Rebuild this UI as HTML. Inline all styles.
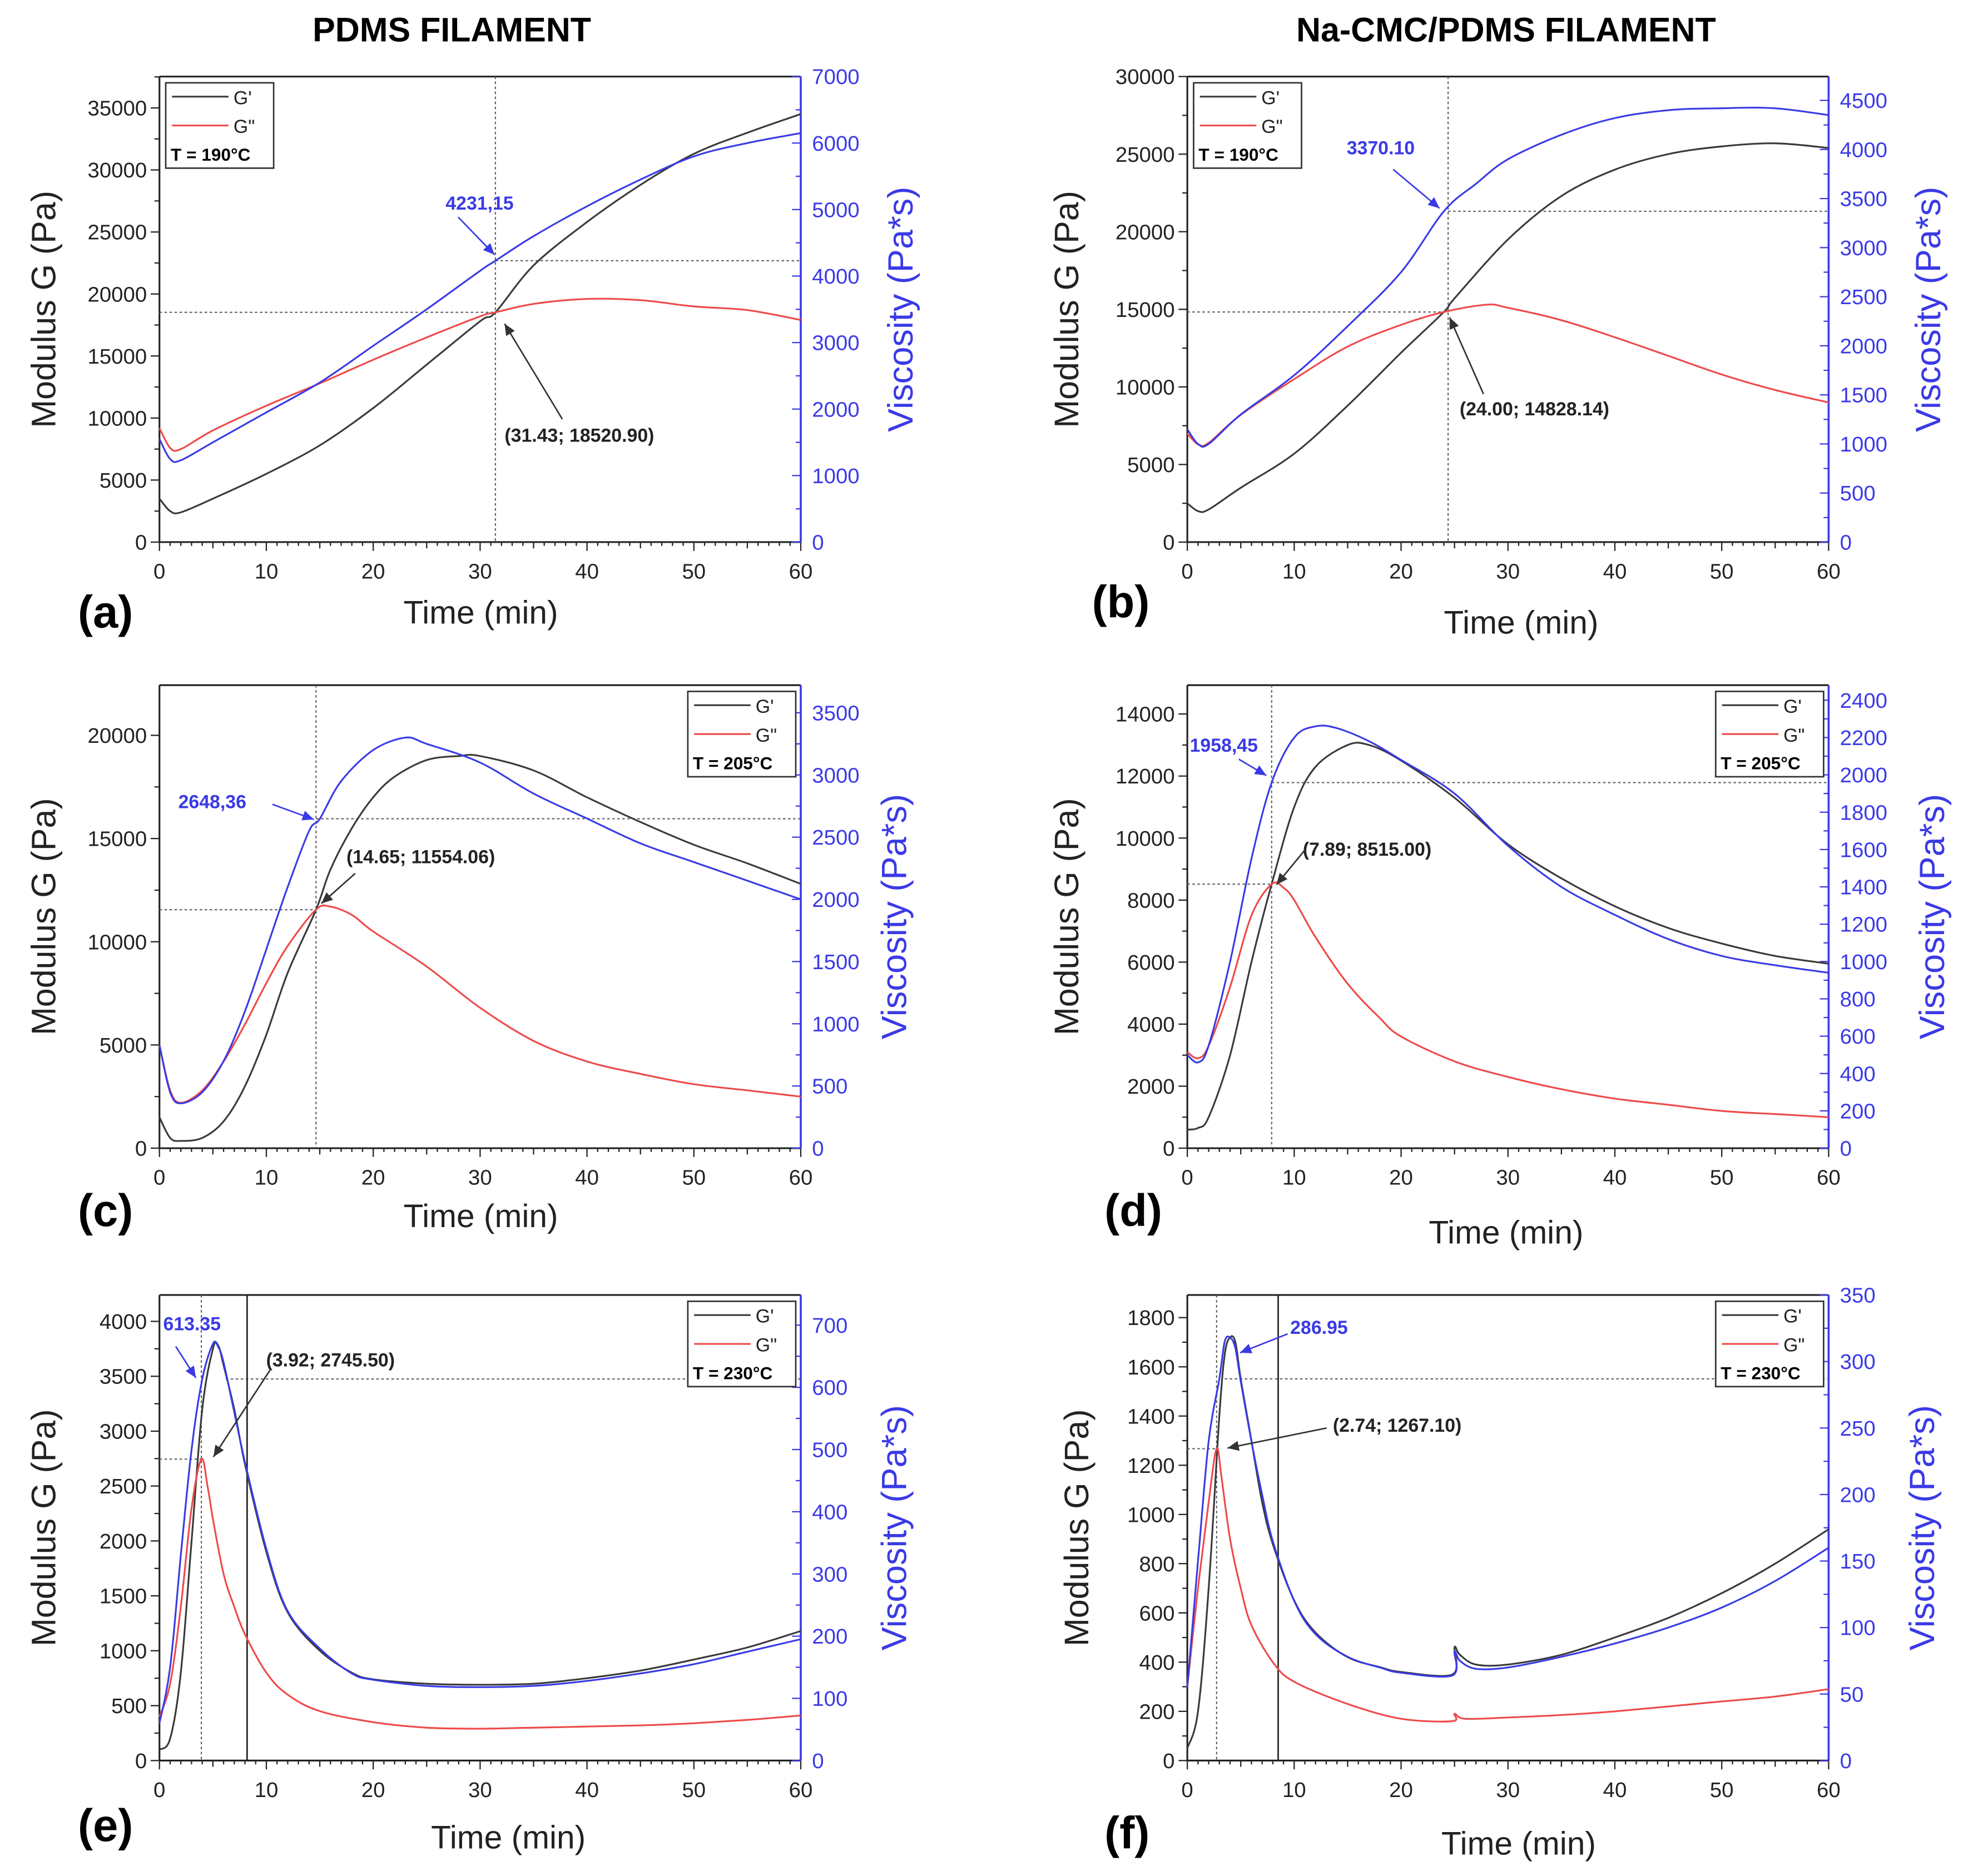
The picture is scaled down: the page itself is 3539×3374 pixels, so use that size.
<!DOCTYPE html>
<html><head><meta charset="utf-8">
<style>
html,body{margin:0;padding:0;background:#fff;}
svg{display:block;}
text{font-family:"Liberation Sans",Arial,sans-serif;}
</style></head>
<body>
<svg id="fig" width="3539" height="3374" viewBox="0 0 1568 1495" xmlns="http://www.w3.org/2000/svg">
<rect width="1568" height="1495" fill="#fff"/>
<text x="360" y="33" font-size="27" font-weight="bold" text-anchor="middle">PDMS FILAMENT</text>
<text x="1200" y="33" font-size="27" font-weight="bold" text-anchor="middle">Na-CMC/PDMS FILAMENT</text>
</svg>
<script>
// ---- data (time in min, G in Pa, viscosity in Pa*s) ----
const aT  = [0,1,2,5,10,15,20,25,30,31.43,35,40,45,50,55,60];
const aG1 = [3500,2500,2400,3500,5500,7800,10800,14300,17800,18520,22300,25800,28800,31300,33000,34500];
const aT2 = [0,1,2,5,10,15,20,25,30,31.43,35,40,45,50,55,60];
const aG2 = [9200,7600,7500,9000,11000,12800,14700,16500,18200,18520,19200,19600,19500,19000,18700,17900];
const aTv = [0,1,2,5,10,15,20,25,30,31.43,35,40,45,50,55,60];
const aV  = [1550,1250,1230,1500,1950,2400,2950,3500,4080,4231,4600,5050,5450,5800,6000,6150];

const bT  = [0,1,2,5,10,15,20,24,25,30,35,40,45,50,55,60];
const bG1 = [2500,2000,2100,3500,5700,8800,12200,14828,15700,19500,22300,24000,25000,25500,25700,25400];
const bT2 = [0,1,2,5,10,15,20,24,28,30,35,40,45,50,55,60];
const bG2 = [7000,6300,6400,8200,10500,12600,14000,14828,15300,15100,14300,13200,12000,10800,9800,9000];
const bTv = [0,1,2,5,10,15,20,24,27,30,35,40,45,50,55,60];
const bV  = [1150,1000,1000,1300,1700,2200,2750,3370,3650,3900,4150,4320,4400,4420,4420,4350];

const cT  = [0,1,2,4,6,8,10,12,14.65,16,18,20,22,25,28,30,35,40,45,50,55,60];
const cG1 = [1500,500,350,500,1300,3000,5500,8500,11554,13500,15500,17000,18000,18800,19000,19000,18300,17000,15800,14700,13800,12800];
const cT2 = [0,1,2,4,6,8,10,12,14.65,16,18,20,25,30,35,40,45,50,55,60];
const cG2 = [5000,2800,2200,2800,4200,6000,8000,9800,11554,11700,11300,10500,8800,6800,5200,4200,3600,3100,2800,2500];
const cTv = [0,1,2,4,6,8,10,12,14,15,17,20,23,25,30,35,40,45,50,55,60];
const cV  = [830,450,360,450,700,1100,1600,2100,2550,2648,2950,3200,3300,3250,3100,2850,2650,2450,2300,2150,2000];

const dT  = [0,1,2,4,6,7.89,10,12,15,17,20,25,30,35,40,45,50,55,60];
const dG1 = [600,650,1000,3000,6000,8515,11000,12300,13000,13000,12500,11300,9800,8700,7800,7100,6600,6200,5950];
const dT2 = [0,1,2,4,6,7.89,9,10,12,15,18,20,25,30,35,40,45,50,55,60];
const dG2 = [3100,2900,3300,5200,7500,8515,8400,8000,6800,5300,4200,3600,2800,2300,1900,1600,1400,1200,1100,1000];
const dTv = [0,1,2,4,6,7.89,10,12,14,17,20,25,30,35,40,45,50,55,60];
const dV  = [500,460,550,1000,1550,1958,2200,2260,2250,2180,2080,1900,1620,1400,1250,1120,1030,980,940];

const eT  = [0,1,2,3,4,5,5.5,6,7,8,10,12,15,18,20,25,30,35,40,45,50,55,60];
const eG1 = [100,200,800,2000,3200,3750,3780,3600,3200,2700,1900,1350,1000,800,740,700,690,700,750,820,920,1030,1180];
const eT2 = [0,1,2,3,3.92,4.5,5,6,7,8,10,12,15,20,25,30,35,40,45,50,55,60];
const eG2 = [400,700,1400,2300,2745,2500,2200,1700,1400,1150,800,600,450,350,300,290,300,310,320,340,370,410];
const eTv = [0,1,2,3,4,5,5.5,6,7,8,10,12,15,18,20,25,30,35,40,45,50,55,60];
const eV  = [60,150,330,500,613,670,665,640,560,480,340,240,180,140,130,120,118,120,128,140,155,175,195];

const fT  = [0,1,2,3,3.5,4,4.5,5,6,7,8,10,12,15,18,20,24.8,25,25.5,27,30,35,40,45,50,55,60];
const fG1 = [50,200,700,1400,1650,1720,1700,1550,1300,1050,880,650,520,420,380,360,350,460,430,390,390,430,500,580,680,800,940];
const fT2 = [0,1,2,2.74,3.2,4,5,6,8,10,15,20,24.8,25,26,30,35,40,45,50,55,60];
const fG2 = [300,700,1050,1267,1150,900,700,550,400,320,230,170,160,190,170,175,185,200,220,240,260,290];
const fTv = [0,1,2,3,3.5,4,4.5,5,6,7,8,10,12,15,18,20,24.8,25,25.5,27,30,35,40,45,50,55,60];
const fV  = [55,150,240,287,315,318,310,285,240,200,165,120,95,78,70,66,64,82,75,69,70,78,88,100,115,135,160];

const xTicks = [0,10,20,30,40,50,60];

const NS='http://www.w3.org/2000/svg';
const svg=document.getElementById('fig');
function mk(tag,attrs,parent){const e=document.createElementNS(NS,tag);for(const k in attrs)e.setAttribute(k,attrs[k]);(parent||svg).appendChild(e);return e;}
function smoothPath(pts){
  let d='M'+pts[0][0].toFixed(1)+','+pts[0][1].toFixed(1);
  for(let i=0;i<pts.length-1;i++){
    const p0=pts[i-1]||pts[i],p1=pts[i],p2=pts[i+1],p3=pts[i+2]||p2;
    const k=1/6;
    const c1=[p1[0]+(p2[0]-p0[0])*k,p1[1]+(p2[1]-p0[1])*k];
    const c2=[p2[0]-(p3[0]-p1[0])*k,p2[1]-(p3[1]-p1[1])*k];
    d+=' C'+c1[0].toFixed(1)+','+c1[1].toFixed(1)+' '+c2[0].toFixed(1)+','+c2[1].toFixed(1)+' '+p2[0].toFixed(1)+','+p2[1].toFixed(1);
  }
  return d;
}

const panels=[
 {id:'a',x0:127,x1:638,yb:432,yt:61,gmax:35000*(432-61)/(432-86),gstep:5000,gminor:2500,vmax:7000,vstep:1000,vminor:500,
  T:aT,G1:aG1,T2:aT2,G2:aG2,Tv:aTv,V:aV,temp:'T = 190°C',legLeft:true,
  cross:31.43,crossG:18520.90,crossV:4231.15,vText:'4231,15',vTextX:355,vTextY:167,vArrow:[365,173,394,203],
  gText:'(31.43; 18520.90)',gTextX:402,gTextY:352,gArrow:[448,334,402,258],solid:null,
  letter:[62,500],timeX:383,timeY:497,modX:35,visX:718},
 {id:'b',x0:946,x1:1457,yb:432,yt:61,gmax:30000,gstep:5000,gminor:2500,vmax:4500*(432-61)/(432-80),vstep:500,vminor:250,
  T:bT,G1:bG1,T2:bT2,G2:bG2,Tv:bTv,V:bV,temp:'T = 190°C',legLeft:true,
  cross:24.4,crossG:14828.14,crossV:3370.10,vText:'3370.10',vTextX:1073,vTextY:123,vArrow:[1110,135,1147,166],
  gText:'(24.00; 14828.14)',gTextX:1163,gTextY:331,gArrow:[1182,314,1155,253],solid:null,
  letter:[870,492],timeX:1212,timeY:505,modX:850,visX:1537},
 {id:'c',x0:127,x1:638,yb:915,yt:546,gmax:20000*(915-546)/(915-586),gstep:5000,gminor:2500,vmax:3500*(915-546)/(915-568),vstep:500,vminor:250,
  T:cT,G1:cG1,T2:cT2,G2:cG2,Tv:cTv,V:cV,temp:'T = 205°C',legLeft:false,
  cross:14.65,crossG:11554.06,crossV:2648.36,vText:'2648,36',vTextX:142,vTextY:644,vArrow:[217,641,250,653],
  gText:'(14.65; 11554.06)',gTextX:276,gTextY:688,gArrow:[283,696,256,720],solid:null,
  letter:[62,977],timeX:383,timeY:978,modX:35,visX:713},
 {id:'d',x0:946,x1:1457,yb:915,yt:546,gmax:14000*(915-546)/(915-569),gstep:2000,gminor:1000,vmax:2400*(915-546)/(915-558),vstep:200,vminor:100,
  T:dT,G1:dG1,T2:dT2,G2:dG2,Tv:dTv,V:dV,temp:'T = 205°C',legLeft:false,
  cross:7.89,crossG:8515.00,crossV:1958.45,vText:'1958,45',vTextX:948,vTextY:599,vArrow:[987,605,1009,618],
  gText:'(7.89; 8515.00)',gTextX:1038,gTextY:682,gArrow:[1040,677,1017,705],solid:null,
  letter:[880,977],timeX:1200,timeY:991,modX:850,visX:1540},
 {id:'e',x0:127,x1:638,yb:1403,yt:1032,gmax:4000*(1403-1032)/(1403-1053),gstep:500,gminor:250,vmax:700*(1403-1032)/(1403-1056),vstep:100,vminor:50,
  T:eT,G1:eG1,T2:eT2,G2:eG2,Tv:eTv,V:eV,temp:'T = 230°C',legLeft:false,
  cross:3.92,crossG:2745.50,crossV:613.35,vLine0:6.2,vText:'613.35',vTextX:130,vTextY:1060,vArrow:[140,1073,156,1098],
  gText:'(3.92; 2745.50)',gTextX:212,gTextY:1089,gArrow:[215,1092,170,1161],solid:8.2,
  letter:[62,1467],timeX:405,timeY:1473,modX:35,visX:713},
 {id:'f',x0:946,x1:1457,yb:1403,yt:1032,gmax:1800*(1403-1032)/(1403-1050),gstep:200,gminor:100,vmax:350,vstep:50,vminor:25,
  T:fT,G1:fG1,T2:fT2,G2:fG2,Tv:fTv,V:fV,temp:'T = 230°C',legLeft:false,
  cross:2.74,crossG:1267.10,crossV:286.95,vLine0:3.5,vText:'286.95',vTextX:1028,vTextY:1063,vArrow:[1026,1063,988,1078],
  gText:'(2.74; 1267.10)',gTextX:1062,gTextY:1141,gArrow:[1057,1138,978,1154],solid:8.5,
  letter:[880,1473],timeX:1210,timeY:1478,modX:858,visX:1532}
];

const C_G1='#3a3a3a',C_G2='#ee4a4a',C_V='#3a3ae6';

panels.forEach(p=>{
  const g=mk('g',{});
  
  
  const X=t=>p.x0+(t/60)*(p.x1-p.x0);
  const YG=v=>p.yb-(v/p.gmax)*(p.yb-p.yt);
  const YV=v=>p.yb-(v/p.vmax)*(p.yb-p.yt);
  mk('line',{x1:p.x0,y1:p.yt,x2:p.x1,y2:p.yt,stroke:'#222','stroke-width':1.4},g);
  const la=mk('line',{x1:p.x0,y1:p.yt,x2:p.x0,y2:p.yb,stroke:'#222','stroke-width':1.4},g);
  
  
  const ra=mk('line',{x1:p.x1,y1:p.yt,x2:p.x1,y2:p.yb,stroke:C_V,'stroke-width':1.6},g);
  
  
  const ba=mk('line',{x1:p.x0,y1:p.yb,x2:p.x1,y2:p.yb,stroke:'#222','stroke-width':1.4},g);
  
  
  for(let t=0;t<=60;t+=1){
    const major=t%10===0;const mid=t%5===0;
    mk('line',{x1:X(t),y1:p.yb,x2:X(t),y2:p.yb+(major?7:mid?5:3),stroke:'#222','stroke-width':1},g);
  }
  xTicks.forEach(t=>{
    const tx=mk('text',{x:X(t),y:p.yb+29,'font-size':17,'text-anchor':'middle',fill:'#222'},g);
    tx.textContent=t;
    
    
  });
  for(let v=0;v<=p.gmax;v+=p.gminor){
    const major=Math.abs(v/p.gstep-Math.round(v/p.gstep))<1e-6;
    mk('line',{x1:p.x0,y1:YG(v),x2:p.x0-(major?7:4),y2:YG(v),stroke:'#222','stroke-width':1},g);
    if(major){
      const tx=mk('text',{x:p.x0-10,y:YG(v)+6,'font-size':17,'text-anchor':'end',fill:'#222'},g);
      tx.textContent=Math.round(v);
      
      
    }
  }
  for(let v=0;v<=p.vmax+1e-6;v+=p.vminor){
    const major=Math.abs(v/p.vstep-Math.round(v/p.vstep))<1e-6;
    mk('line',{x1:p.x1,y1:YV(v),x2:p.x1-(major?7:4),y2:YV(v),stroke:C_V,'stroke-width':1},g);
    if(major){
      const tx=mk('text',{x:p.x1+9,y:YV(v)+6,'font-size':17,'text-anchor':'start',fill:C_V},g);
      tx.textContent=Math.round(v);
      
      
    }
  }
  mk('line',{x1:X(p.cross),y1:p.yt,x2:X(p.cross),y2:p.yb,stroke:'#555','stroke-width':0.9,'stroke-dasharray':'2,2'},g);
  mk('line',{x1:p.x0,y1:YG(p.crossG),x2:X(p.cross),y2:YG(p.crossG),stroke:'#666','stroke-width':1,'stroke-dasharray':'2,2'},g);
  mk('line',{x1:X(p.vLine0||p.cross),y1:YV(p.crossV),x2:p.x1,y2:YV(p.crossV),stroke:'#666','stroke-width':1,'stroke-dasharray':'2,2'},g);
  if(p.solid) mk('line',{x1:X(p.solid),y1:p.yt,x2:X(p.solid),y2:p.yb,stroke:'#222','stroke-width':1.2},g);
  const series=[[p.T,p.G1,YG,C_G1,'g-prime-line'],[p.T2,p.G2,YG,C_G2,'g-double-prime-line'],[p.Tv,p.V,YV,C_V,'viscosity-line']];
  series.forEach(s=>{
    const pts=s[0].map((t,i)=>[X(t),s[2](s[1][i])]);
    const pl=mk('path',{d:smoothPath(pts),fill:'none',stroke:s[3],'stroke-width':1.4,'stroke-linejoin':'round'},g);
    
    
  });
  const lw=86,lh=68;
  const lx=p.legLeft?p.x0+5:p.x1-lw-4, ly=p.yt+5;
  const lg=mk('g',{},g);
  
  
  mk('rect',{x:lx,y:ly,width:lw,height:lh,fill:'#fff',stroke:'#333','stroke-width':1.2},lg);
  mk('line',{x1:lx+5,y1:ly+11,x2:lx+50,y2:ly+11,stroke:C_G1,'stroke-width':1.4},lg);
  mk('line',{x1:lx+5,y1:ly+34,x2:lx+50,y2:ly+34,stroke:C_G2,'stroke-width':1.4},lg);
  let t1=mk('text',{x:lx+54,y:ly+17,'font-size':15,fill:'#222'},lg);t1.textContent="G'";
  let t2=mk('text',{x:lx+54,y:ly+40,'font-size':15,fill:'#222'},lg);t2.textContent='G"';
  let t3=mk('text',{x:lx+4,y:ly+62,'font-size':14,'font-weight':'bold',fill:'#000'},lg);t3.textContent=p.temp;
  const va=mk('text',{x:p.vTextX,y:p.vTextY,'font-size':15,'font-weight':'bold',fill:C_V},g);
  va.textContent=p.vText;
  
  
  const ga=mk('text',{x:p.gTextX,y:p.gTextY,'font-size':15,'font-weight':'bold',fill:'#222'},g);
  ga.textContent=p.gText;
  
  
  [[p.vArrow,C_V],[p.gArrow,'#333']].forEach(a=>{
    const [x1,y1,x2,y2]=a[0];
    mk('line',{x1,y1,x2,y2,stroke:a[1],'stroke-width':1.2},g);
    const ang=Math.atan2(y2-y1,x2-x1),L=9,W=4;
    const bx=x2-L*Math.cos(ang),by=y2-L*Math.sin(ang);
    mk('polygon',{points:`${x2},${y2} ${bx+W*Math.sin(ang)},${by-W*Math.cos(ang)} ${bx-W*Math.sin(ang)},${by+W*Math.cos(ang)}`,fill:a[1]},g);
  });
  const xt=mk('text',{x:p.timeX,y:p.timeY,'font-size':26,'text-anchor':'middle',fill:'#222'},g);
  xt.textContent='Time (min)';
  
  
  const my=(p.yt+p.yb)/2;
  const yt=mk('text',{x:p.modX,y:my,'font-size':27,'text-anchor':'middle',fill:'#222',transform:`rotate(-90 ${p.modX} ${my})`,dy:9},g);
  yt.textContent='Modulus G (Pa)';
  
  
  const vy=mk('text',{x:p.visX,y:my,'font-size':28,'text-anchor':'middle',fill:C_V,transform:`rotate(-90 ${p.visX} ${my})`,dy:9},g);
  vy.textContent='Viscosity (Pa*s)';
  
  
  const lt=mk('text',{x:p.letter[0],y:p.letter[1],'font-size':36,'font-weight':'bold',fill:'#000'},g);
  lt.textContent='('+p.id+')';
  
  
});
</script>
</body></html>
